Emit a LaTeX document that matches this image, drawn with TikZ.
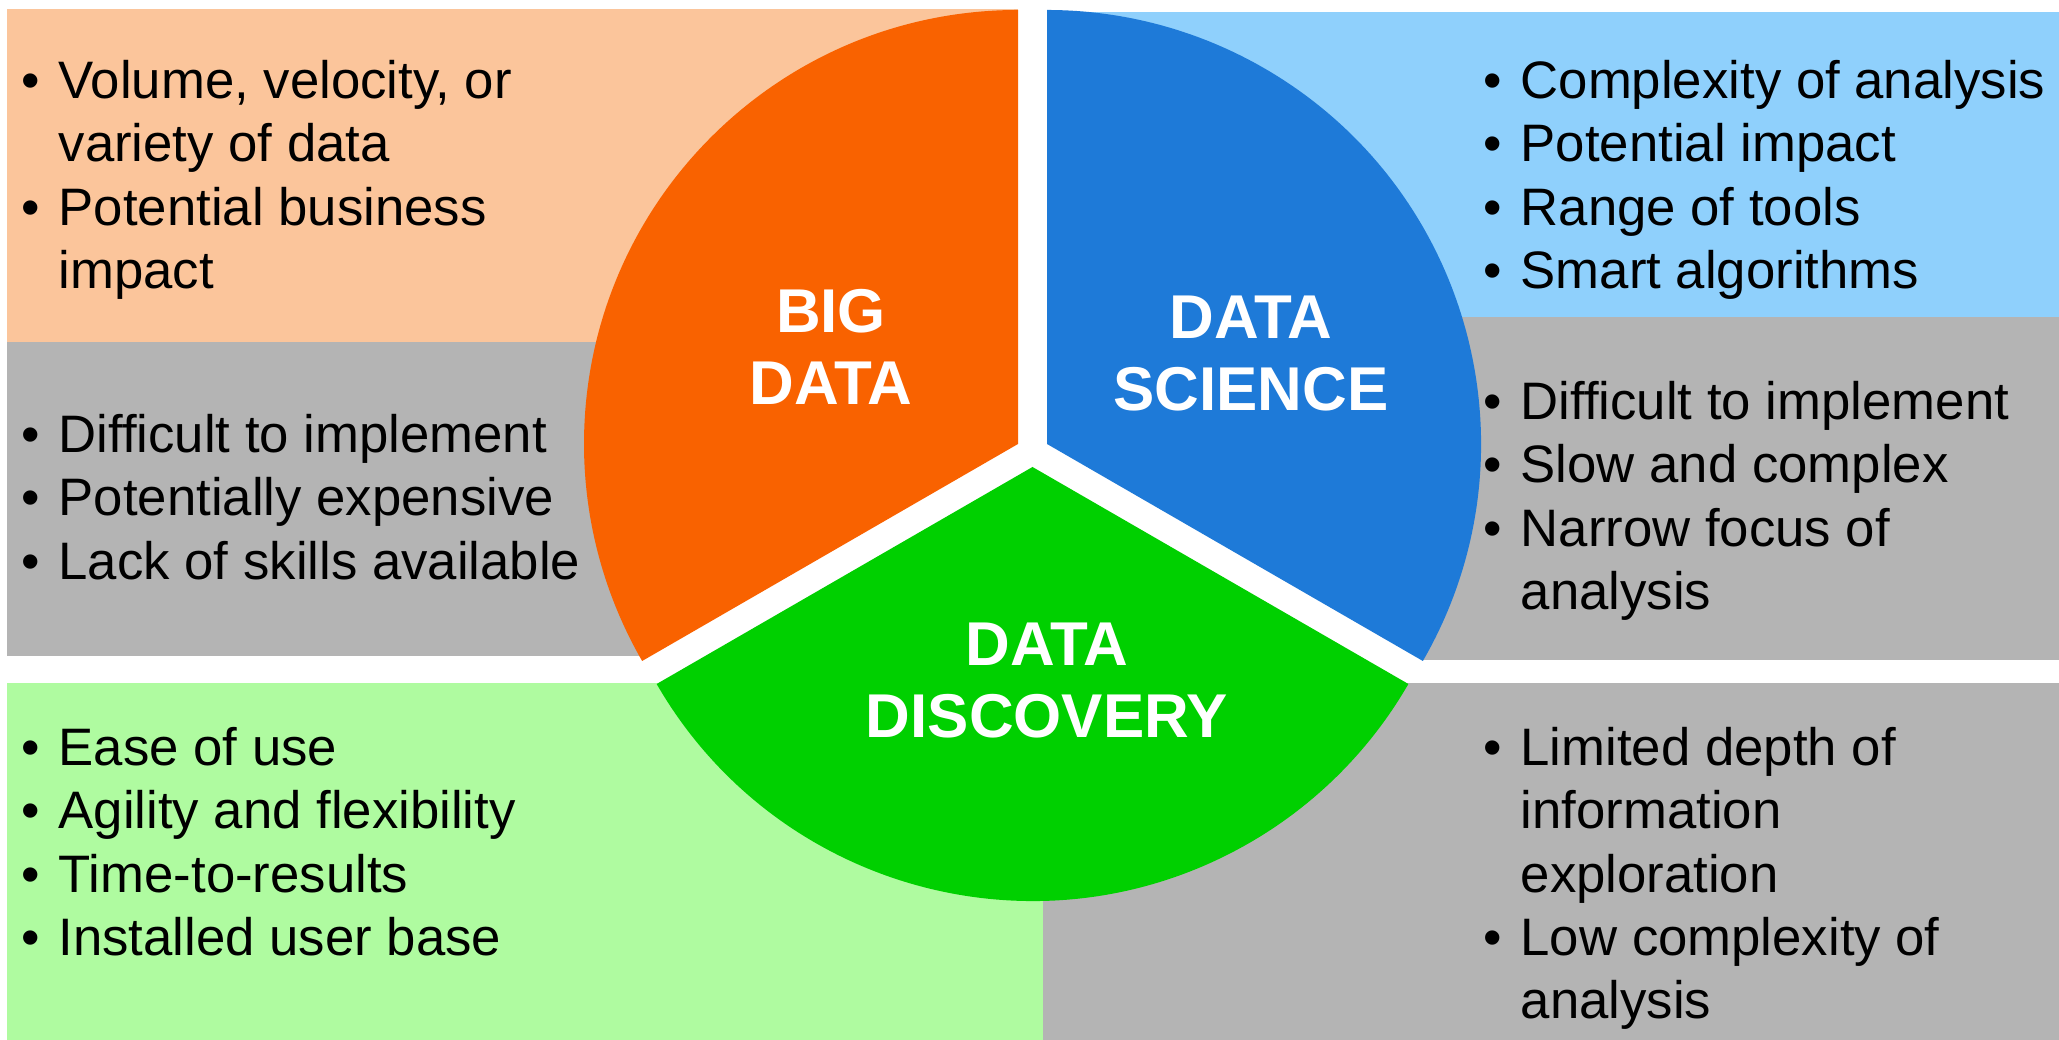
\documentclass[tikz,border=0pt]{standalone}
\usepackage{fontspec}
\setmainfont{Liberation Sans}
\definecolor{peach}{HTML}{FBC59B}
\definecolor{orangeW}{HTML}{F96200}
\definecolor{blueW}{HTML}{1E7AD8}
\definecolor{lightblue}{HTML}{8FD0FC}
\definecolor{grayB}{HTML}{B4B4B4}
\definecolor{lightgreen}{HTML}{AFFBA0}
\definecolor{greenW}{HTML}{00D000}
\newcommand{\bl}{\strut\makebox[0.37cm][l]{•}}
\newcommand{\cl}{\strut\hspace*{0.37cm}}
\begin{document}
\begin{tikzpicture}[
  body/.style={anchor=north west, inner sep=0pt, align=left, font=\fontsize{15}{18}\selectfont, text=black},
  ttl/.style={inner sep=0pt, align=center, font=\bfseries\fontsize{17.6}{20.5}\selectfont, text=white},
]
\useasboundingbox (0,0) rectangle (20.59,10.40);
\fill[white] (0,0) rectangle (20.59,10.40);
% boxes
\fill[peach] (0.07,6.98) rectangle (10.18,10.31);
\fill[grayB] (0.07,3.84) rectangle (6.40,6.98);
\fill[lightgreen] (0.07,0) rectangle (10.43,3.57);
\fill[lightblue] (10.47,7.23) rectangle (20.59,10.28);
\fill[grayB] (14.22,3.80) rectangle (20.59,7.23);
\fill[grayB] (10.43,0) rectangle (20.59,3.57);
% wedges
\fill[orangeW] (10.18,5.96) -- ++(90:4.34) arc[start angle=90,end angle=210,radius=4.34] -- cycle;
\fill[blueW] (10.47,5.96) -- ++(-30:4.34) arc[start angle=-30,end angle=90,radius=4.34] -- cycle;
\fill[greenW] (10.325,5.73) -- ++(210:4.34) arc[start angle=210,end angle=330,radius=4.34] -- cycle;
% titles
\node[ttl] (bigdata) at (8.31,6.93) {BIG\\DATA};
\node[ttl] (datascience) at (12.51,6.86) {DATA\\SCIENCE};
\node[ttl] (datadiscovery) at (10.47,3.59) {DATA\\DISCOVERY};
% texts
\node[body] (bdpro) at (0.21,9.863) {\bl Volume, velocity, or\\\cl variety of data\\\bl Potential business\\\cl impact};
\node[body] (bdcon) at (0.21,6.323) {\bl Difficult to implement\\\bl Potentially expensive\\\bl Lack of skills available};
\node[body] (ddpro) at (0.21,3.193) {\bl Ease of use\\\bl Agility and flexibility\\\bl Time-to-results\\\bl Installed user base};
\node[body] (dspro) at (14.83,9.863) {\bl Complexity of analysis\\\bl Potential impact\\\bl Range of tools\\\bl Smart algorithms};
\node[body] (dscon) at (14.83,6.653) {\bl Difficult to implement\\\bl Slow and complex\\\bl Narrow focus of\\\cl analysis};
\node[body] (ddcon) at (14.83,3.193) {\bl Limited depth of\\\cl information\\\cl exploration\\\bl Low complexity of\\\cl analysis};
\end{tikzpicture}
\end{document}
